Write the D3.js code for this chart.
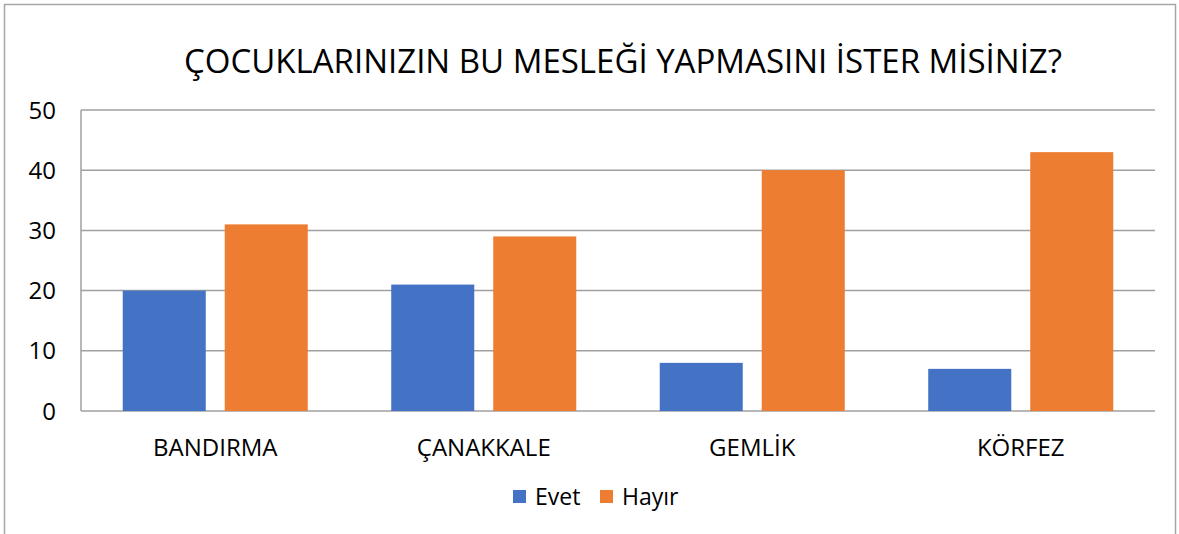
<!DOCTYPE html>
<html>
<head>
<meta charset="utf-8">
<script src="https://cdn.jsdelivr.net/npm/d3@7"></script>
<style>
  body { margin: 0; background: #fff; }
  text { font-family: "Open Sans", "Noto Sans", sans-serif; fill: #000; }
</style>
</head>
<body>
<svg id="chart"></svg>
<script>
// data
var categories = ["BANDIRMA", "ÇANAKKALE", "GEMLİK", "KÖRFEZ"];
var seriesNames = ["Evet", "Hayır"];
var evet = [20, 21, 8, 7];
var hayir = [31, 29, 40, 43];
var yTicks = [0, 10, 20, 30, 40, 50];
var colors = ["#4472C4", "#ED7D31"];

var W = 1179, H = 534;
var margin = {top: 110, right: 24, bottom: 123, left: 81},
    width = W - margin.left - margin.right,
    height = H - margin.top - margin.bottom;

var svg = d3.select("#chart").attr("width", W).attr("height", H);

// outer frame
svg.append("rect")
  .attr("x", 4.5).attr("y", 4.5)
  .attr("width", 1171).attr("height", 540)
  .attr("fill", "none").attr("stroke", "#a6a6a6").attr("stroke-width", 1.5);

var g = svg.append("g")
  .attr("transform", "translate(" + margin.left + "," + margin.top + ")");

var y = d3.scaleLinear().domain([0, 50]).range([height, 0]);
var x0 = d3.scaleBand().domain(categories).range([0, width]).padding(0);
var x1 = d3.scaleBand().domain(seriesNames).range([0, x0.bandwidth()])
  .paddingInner(0.186).paddingOuter(0.409);

// gridlines
g.append("g").selectAll("line")
  .data(yTicks)
  .enter().append("line")
  .attr("x1", 0).attr("x2", width)
  .attr("y1", function(d) { return y(d); })
  .attr("y2", function(d) { return y(d); })
  .attr("stroke", "#a0a0a0").attr("stroke-width", 1.5);

// left axis line
g.append("line")
  .attr("x1", 0).attr("x2", 0).attr("y1", 0).attr("y2", height)
  .attr("stroke", "#a0a0a0").attr("stroke-width", 1.5);

// y labels
g.append("g").selectAll("text")
  .data(yTicks)
  .enter().append("text")
  .attr("x", -25)
  .attr("y", function(d) { return y(d); })
  .attr("dy", "0.36em")
  .attr("text-anchor", "end")
  .style("font-size", "24px")
  .text(function(d) { return d; });

// bars
var rows = categories.map(function(c, i) {
  return {cat: c, values: [evet[i], hayir[i]]};
});

var groups = g.append("g").selectAll("g")
  .data(rows)
  .enter().append("g")
  .attr("transform", function(d) { return "translate(" + x0(d.cat) + ",0)"; });

groups.selectAll("rect")
  .data(function(d) { return d.values.map(function(v, j) { return {name: seriesNames[j], value: v, j: j}; }); })
  .enter().append("rect")
  .attr("x", function(d) { return x1(d.name); })
  .attr("y", function(d) { return y(d.value); })
  .attr("width", x1.bandwidth())
  .attr("height", function(d) { return height - y(d.value); })
  .attr("fill", function(d) { return colors[d.j]; });

// category labels
g.append("g").selectAll("text")
  .data(categories)
  .enter().append("text")
  .attr("x", function(d) { return x0(d) + x0.bandwidth() / 2; })
  .attr("y", height + 45)
  .attr("text-anchor", "middle")
  .style("font-size", "24px")
  .text(function(d) { return d; });

// title
svg.append("text")
  .attr("x", 623)
  .attr("y", 73)
  .attr("text-anchor", "middle")
  .style("font-size", "33px")
  .text("ÇOCUKLARINIZIN BU MESLEĞİ YAPMASINI İSTER MİSİNİZ?");

// legend
var legendX = [513, 600];
var legend = svg.append("g").selectAll("g")
  .data(seriesNames)
  .enter().append("g")
  .attr("transform", function(d, i) { return "translate(" + legendX[i] + ",490)"; });

legend.append("rect")
  .attr("width", 13).attr("height", 13)
  .attr("fill", function(d, i) { return colors[i]; });

legend.append("text")
  .attr("x", 22).attr("y", 7)
  .attr("dy", "0.36em")
  .style("font-size", "23px")
  .text(function(d) { return d; });
</script>
</body>
</html>
